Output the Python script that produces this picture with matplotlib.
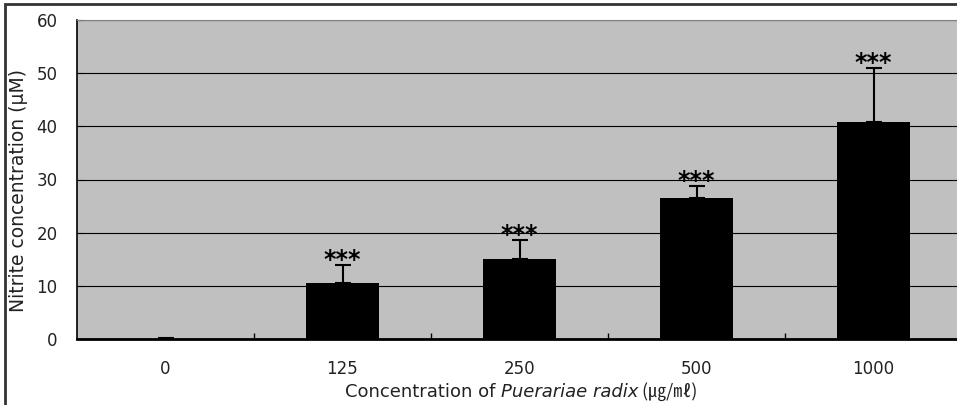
import matplotlib.pyplot as plt
from matplotlib.patches import Rectangle

doses = ["0", "125", "250", "500", "1000"]
nitrite = [0.0, 10.5, 15.0, 26.5, 40.8]
errors = [0.1, 3.4, 3.6, 2.3, 10.2]
stars = ["", "***", "***", "***", "***"]

fig = plt.figure(figsize=(9.57, 4.05), dpi=100)
ax = fig.add_axes([77 / 957, 1 - 339 / 405, 885 / 957, 319 / 405])
ax.set_facecolor("#c0c0c0")

x = range(len(doses))
ax.bar(x, nitrite, width=0.41, color="black", zorder=3)
ax.errorbar(x, nitrite, yerr=[[0] * len(errors), errors], fmt="none",
            ecolor="black", elinewidth=1.5, capsize=6, capthick=1.5, zorder=4)
for xi, v, e, s in zip(x, nitrite, errors, stars):
    ax.text(xi, v + e + 1.0, s, ha="center", va="center", fontsize=17,
            fontweight="bold", zorder=5)

ax.set_xlim(-0.5, len(doses) - 0.5)
ax.set_ylim(0, 60)
ax.set_yticks(range(0, 61, 10))
ax.yaxis.grid(True, color="black", linewidth=0.8, zorder=1)
ax.set_axisbelow(True)
ax.set_xticks(list(x))
ax.set_xticklabels(doses)
ax.set_xticks([i + 0.5 for i in range(len(doses) - 1)], minor=True)
ax.tick_params(axis="x", which="major", length=0, pad=15, labelsize=12, labelcolor="#222222")
ax.tick_params(axis="x", which="minor", direction="in", length=4, width=1)
ax.tick_params(axis="y", direction="in", length=4, pad=14, labelsize=12, labelcolor="#222222")

ax.spines["left"].set_linewidth(1.2)
ax.spines["bottom"].set_linewidth(2)
ax.spines["top"].set_color("#808080")
ax.spines["right"].set_visible(False)

fig.text(19 / 957, 1 - 191 / 405, "Nitrite concentration (μM)", fontsize=13.5,
         rotation=90, ha="center", va="center", color="#222222")

# x label built from three pieces: plain, italic, Korean unit signs
fig.canvas.draw()
r = fig.canvas.get_renderer()
y_lab = 1 - 392 / 405
parts = [("Concentration of ", dict(family="DejaVu Sans")),
         ("Puerariae radix", dict(family="DejaVu Sans", style="italic")),
         (" (㎍/㎖)", dict(family=["Noto Sans CJK KR", "DejaVu Sans"]))]
objs = [fig.text(0, y_lab, t, fontsize=13, color="#222222", va="center", **kw) for t, kw in parts]
widths = [o.get_window_extent(r).width for o in objs]
x0 = (521 - sum(widths) / 2) / 957
for o, w in zip(objs, widths):
    o.set_x(x0)
    x0 += w / 957

fig.patches.append(Rectangle((5 / 957, -0.1), 1.2, 1 - 4 / 405 + 0.1, transform=fig.transFigure,
                             fill=False, edgecolor="#333333", linewidth=2))

fig.savefig("out.png", dpi=100)
